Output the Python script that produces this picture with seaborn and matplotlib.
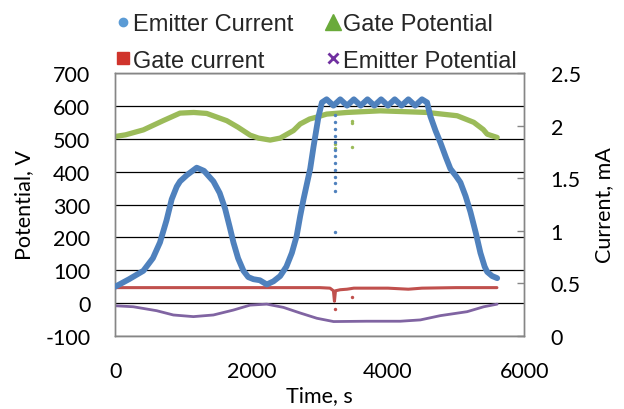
import matplotlib
matplotlib.use("Agg")
import matplotlib.pyplot as plt
import seaborn as sns
import pandas as pd
from matplotlib.lines import Line2D

# ---------------- data ----------------
# Emitter current (mA, right axis)
t_ec = [0, 200, 410, 550, 654, 750, 826, 900, 948, 1050, 1193, 1300, 1438, 1530,
        1610, 1680, 1732, 1800, 1879, 1950, 2026, 2120, 2222, 2320, 2418, 2510,
        2590, 2660, 2712, 2761, 2859, 2908, 2982, 3031,
        3100, 3200, 3300, 3400, 3500, 3600, 3700, 3800, 3900, 4000, 4100, 4200,
        4300, 4400, 4500, 4575, 4623, 4700, 4770, 4850, 4917, 5000, 5064, 5140,
        5211, 5290, 5358, 5420, 5457, 5530, 5604]
ec = [0.47, 0.54, 0.62, 0.74, 0.89, 1.10, 1.30, 1.42, 1.47, 1.53, 1.60, 1.57, 1.47, 1.36,
      1.21, 1.03, 0.89, 0.74, 0.62, 0.56, 0.54, 0.53, 0.49, 0.52, 0.57, 0.66,
      0.79, 0.95, 1.14, 1.30, 1.59, 1.80, 2.09, 2.22,
      2.25, 2.19, 2.25, 2.19, 2.25, 2.19, 2.25, 2.19, 2.25, 2.19, 2.25, 2.19,
      2.25, 2.19, 2.25, 2.22, 2.09, 1.95, 1.84, 1.70, 1.59, 1.52, 1.46, 1.33,
      1.18, 0.98, 0.79, 0.66, 0.61, 0.57, 0.55]
t_ec_out = [3217] * 13
ec_out = [2.10, 2.03, 1.97, 1.90, 1.84, 1.77, 1.71, 1.64, 1.58, 1.51, 1.45, 1.38, 0.99]

# Gate potential (V, left axis)
t_gp = [0, 150, 410, 700, 948, 1150, 1340, 1634, 1800, 1977, 2100, 2271, 2418, 2614,
        2712, 2850, 2957, 3100, 3399, 3888, 4575, 5016, 5260, 5400, 5457, 5604]
gp = [507, 512, 527, 555, 578, 580, 577, 555, 535, 511, 502, 496, 502, 525,
      545, 560, 566, 575, 580, 585, 580, 570, 550, 528, 514, 504]
t_gp_out = [3217, 3217, 3470, 3470, 3470]
gp_out = [484, 472, 554, 548, 475]

# Gate current (mA, right axis)
t_gc = [0, 1000, 2000, 3000, 3150, 3200, 3215, 3230, 3300, 3400, 3500, 4000,
        4300, 4400, 4500, 5000, 5600]
gc = [0.46, 0.46, 0.46, 0.46, 0.455, 0.43, 0.33, 0.43, 0.44, 0.445, 0.455, 0.455,
      0.445, 0.45, 0.455, 0.46, 0.46]
t_gc_out = [3217, 3470]
gc_out = [0.256, 0.37]

# Emitter potential (V, left axis)
t_ep = [0, 262, 605, 850, 1144, 1438, 1732, 1977, 2222, 2467, 2712, 2957, 3202,
        3692, 4182, 4476, 4770, 5162, 5407, 5604]
ep = [-8, -11, -23, -36, -41, -36, -21, -6, -3, -13, -30, -46, -56,
      -55, -55, -51, -38, -26, -11, -3]

left_ticks = [-100, 0, 100, 200, 300, 400, 500, 600, 700]
right_ticks = [0, 0.5, 1, 1.5, 2, 2.5]
right_labels = ["0", "0.5", "1", "1.5", "2", "2.5"]
x_ticks = [0, 2000, 4000, 6000]

names = ["Emitter Current", "Gate Potential", "Gate current", "Emitter Potential"]

# ---------------- style ----------------
sns.set_theme(style="white")
plt.rcParams["font.family"] = ["Lato", "DejaVu Sans"]
plt.rcParams["axes.unicode_minus"] = False

c_blue = "#4F81BD"
c_green = "#9BBB59"
c_red = "#C0504D"
c_purple = "#8064A2"

fig = plt.figure(figsize=(6.24, 4.10), dpi=100)
ax = fig.add_axes([0.185, 0.178, 0.655, 0.6415])
ax2 = ax.twinx()

df_gp = pd.DataFrame({"t": t_gp, "v": gp})
df_ep = pd.DataFrame({"t": t_ep, "v": ep})
df_ec = pd.DataFrame({"t": t_ec, "v": ec})
df_gc = pd.DataFrame({"t": t_gc, "v": gc})

sns.lineplot(data=df_gp, x="t", y="v", ax=ax, color=c_green, lw=3.8,
             sort=False, estimator=None, zorder=3)
sns.scatterplot(x=t_gp_out, y=gp_out, ax=ax, color=c_green, s=6, linewidth=0, zorder=3)
sns.lineplot(data=df_ep, x="t", y="v", ax=ax, color=c_purple, lw=2.0,
             sort=False, estimator=None, zorder=3)

sns.lineplot(data=df_gc, x="t", y="v", ax=ax2, color=c_red, lw=2.2,
             sort=False, estimator=None, zorder=4)
sns.scatterplot(x=t_gc_out, y=gc_out, ax=ax2, color=c_red, s=6, linewidth=0, zorder=4)
sns.lineplot(data=df_ec, x="t", y="v", ax=ax2, color=c_blue, lw=4.2,
             sort=False, estimator=None, zorder=5)
sns.scatterplot(x=t_ec_out, y=ec_out, ax=ax2, color=c_blue, s=6, linewidth=0, zorder=5)

ax.set_xlim(0, 6000)
ax.set_ylim(-100, 700)
ax2.set_ylim(0, 2.5)
ax.set_xticks(x_ticks)
ax.set_yticks(left_ticks)
ax2.set_yticks(right_ticks)
ax2.set_yticklabels(right_labels)
ax.set_xticklabels([str(v) for v in x_ticks])

for a in (ax, ax2):
    for s in a.spines.values():
        s.set_color("#868686")
        s.set_linewidth(1.0)

ax.yaxis.grid(True, color="black", lw=0.9)
ax.xaxis.grid(False)
ax.set_axisbelow(True)

ax.tick_params(axis="y", length=0, pad=18, labelsize=15.5, colors="black")
ax.tick_params(axis="x", direction="in", length=7, width=1, color="#868686",
               pad=18, labelsize=15.5, labelcolor="black")
ax2.tick_params(axis="y", direction="in", length=5, width=1, color="#868686",
                pad=19, labelsize=15.5, labelcolor="black")

ax.set_xlabel("Time, s", fontsize=15.5, labelpad=3, color="black")
ax.set_ylabel("Potential, V", fontsize=15.5, labelpad=8, color="black")
ax2.set_ylabel("Current, mA", fontsize=15.5, labelpad=10, color="black")

handles = [
    Line2D([], [], ls="none", marker="o", ms=6, color="#5B9BD5"),
    Line2D([], [], ls="none", marker="s", ms=8, color="#D0342C"),
    Line2D([], [], ls="none", marker="^", ms=12, color="#6AAA3A"),
    Line2D([], [], ls="none", marker="x", ms=7, mew=2, color="#7030A0"),
]
labels = [names[0], names[2], names[1], names[3]]
fig.legend(handles, labels, ncol=2, loc="upper left",
           bbox_to_anchor=(0.171, 0.988), frameon=False,
           prop={"family": "Liberation Sans", "size": 17},
           handlelength=0.6, handletextpad=0.1, columnspacing=1.4,
           labelspacing=0.6, borderaxespad=0)

fig.savefig("out.png", dpi=100)
